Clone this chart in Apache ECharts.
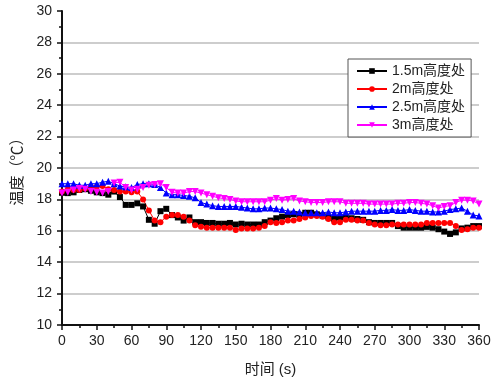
<!DOCTYPE html>
<html>
<head>
<meta charset="utf-8">
<script src="https://cdn.jsdelivr.net/npm/echarts@6/dist/echarts.min.js"></script>
<style>
  html, body { margin: 0; padding: 0; background: #fff; }
  #main { width: 497px; height: 382px; }
</style>
</head>
<body>
<div id="main"></div>
<script>
// 时间 (s), 每 5 秒一个点
var times = [];
for (var t = 0; t <= 360; t += 5) times.push(t);

var names = ['1.5m高度处', '2m高度处', '2.5m高度处', '3m高度处'];

var h15 = [18.42,18.4,18.45,18.6,18.65,18.55,18.45,18.4,18.3,18.5,18.15,17.65,17.65,17.75,17.55,16.7,16.45,17.25,17.4,17.0,
  16.85,16.65,16.85,16.55,16.55,16.5,16.5,16.45,16.45,16.5,16.4,16.45,16.4,
  16.4,16.4,16.55,16.65,16.8,16.9,17.0,17.05,17.0,17.15,17.15,17.05,16.95,16.85,16.75,16.85,16.9,16.8,16.75,16.7,
  16.55,16.5,16.5,16.5,16.5,16.3,16.2,16.2,16.2,16.2,16.25,16.2,16.1,15.95,15.8,15.9,16.15,16.2,16.3,16.3];
var h2 = [18.5,18.65,18.6,18.6,18.7,18.8,18.8,18.85,18.65,18.6,18.5,18.5,18.45,18.5,18.0,17.3,16.65,16.55,16.9,17.0,
  17.0,16.9,16.65,16.35,16.25,16.2,16.2,16.2,16.2,16.2,16.05,16.15,16.15,
  16.15,16.2,16.3,16.55,16.5,16.55,16.65,16.65,16.75,16.85,16.95,16.95,16.9,16.75,16.55,16.55,16.7,16.7,16.65,16.65,
  16.5,16.4,16.35,16.35,16.4,16.4,16.4,16.4,16.4,16.4,16.5,16.5,16.5,16.5,16.5,16.3,16.05,16.1,16.2,16.2];
var h25 = [19.0,19.0,19.0,18.9,18.9,19.0,19.0,19.1,19.15,19.0,18.85,18.8,18.75,18.95,19.0,19.0,18.95,18.75,18.4,18.3,
  18.3,18.25,18.2,18.1,17.8,17.7,17.6,17.55,17.55,17.55,17.55,17.5,17.45,
  17.4,17.4,17.45,17.45,17.4,17.35,17.25,17.25,17.2,17.15,17.15,17.15,17.15,17.2,17.15,17.15,17.2,17.25,17.25,17.25,
  17.25,17.25,17.3,17.3,17.35,17.3,17.3,17.35,17.3,17.25,17.25,17.2,17.2,17.25,17.35,17.4,17.45,17.25,17.0,16.95];
var h3 = [18.4,18.45,18.6,18.7,18.65,18.5,18.45,18.4,18.5,19.05,19.1,18.75,18.6,18.65,18.75,18.9,18.95,19.0,18.75,18.45,
  18.4,18.4,18.5,18.5,18.4,18.3,18.2,18.1,18.05,18.0,17.9,17.85,17.85,
  17.85,17.85,17.85,17.95,18.05,17.95,18.0,18.05,17.9,17.85,17.8,17.8,17.8,17.85,17.85,17.85,17.75,17.75,17.75,17.75,
  17.7,17.7,17.7,17.7,17.7,17.75,17.75,17.8,17.8,17.75,17.7,17.6,17.45,17.55,17.6,17.8,17.95,17.95,17.9,17.7];

function pairs(arr) {
  var out = [];
  for (var i = 0; i < arr.length; i++) out.push([times[i], arr[i]]);
  return out;
}

var font = "'Liberation Sans', Arial, 'Noto Sans CJK SC', sans-serif";

function line(name, data, color, symbol, size, rotate) {
  return {
    name: name,
    type: 'line',
    data: pairs(data),
    symbol: symbol,
    symbolSize: size,
    symbolRotate: rotate || 0,
    itemStyle: { color: color },
    lineStyle: { color: color, width: 1 },
    animation: false
  };
}

var myChart = echarts.init(document.getElementById('main'));

var option = {
  backgroundColor: '#fff',
  textStyle: { fontFamily: font },
  grid: { left: 62, right: 18, top: 11, bottom: 56 },
  legend: {
    orient: 'vertical',
    left: 348,
    top: 59,
    padding: [5, 6, 5, 8],
    itemGap: 4,
    itemWidth: 30,
    itemHeight: 7,
    backgroundColor: '#fff',
    borderColor: '#555',
    borderWidth: 1,
    textStyle: { fontSize: 14, color: '#222', fontFamily: font },
    data: names
  },
  xAxis: {
    type: 'value',
    min: 0,
    max: 360,
    interval: 30,
    name: '时间 (s)',
    nameLocation: 'middle',
    nameGap: 37,
    nameTextStyle: { fontSize: 15, color: '#222', fontFamily: font },
    axisLine: { show: true, lineStyle: { color: '#111', width: 2 } },
    axisTick: { show: true, length: 5, lineStyle: { color: '#111', width: 1.5 } },
    minorTick: { show: true, splitNumber: 2, length: 3, lineStyle: { color: '#111', width: 1.5 } },
    axisLabel: { fontSize: 14, color: '#222', margin: 9, fontFamily: font },
    splitLine: { show: false }
  },
  yAxis: {
    type: 'value',
    min: 10,
    max: 30,
    interval: 2,
    name: '温度（℃）',
    nameLocation: 'middle',
    nameRotate: 90,
    nameGap: 28,
    nameTextStyle: { fontSize: 15, color: '#222', fontFamily: font },
    axisLine: { show: true, lineStyle: { color: '#111', width: 2 } },
    axisTick: { show: true, length: 5, lineStyle: { color: '#111', width: 1.5 } },
    minorTick: { show: true, splitNumber: 2, length: 3, lineStyle: { color: '#111', width: 1.5 } },
    axisLabel: { fontSize: 14, color: '#222', margin: 10, fontFamily: font },
    splitLine: { show: true, showMinLine: false, showMaxLine: false, lineStyle: { color: '#bdbdbd', width: 1.5 } }
  },
  series: [
    line(names[0], h15, '#000000', 'rect', 6),
    line(names[1], h2, '#ff0000', 'circle', 6),
    line(names[2], h25, '#0000ff', 'triangle', 7),
    line(names[3], h3, '#ff00ff', 'triangle', 7, 180)
  ]
};

myChart.setOption(option);
</script>
</body>
</html>
